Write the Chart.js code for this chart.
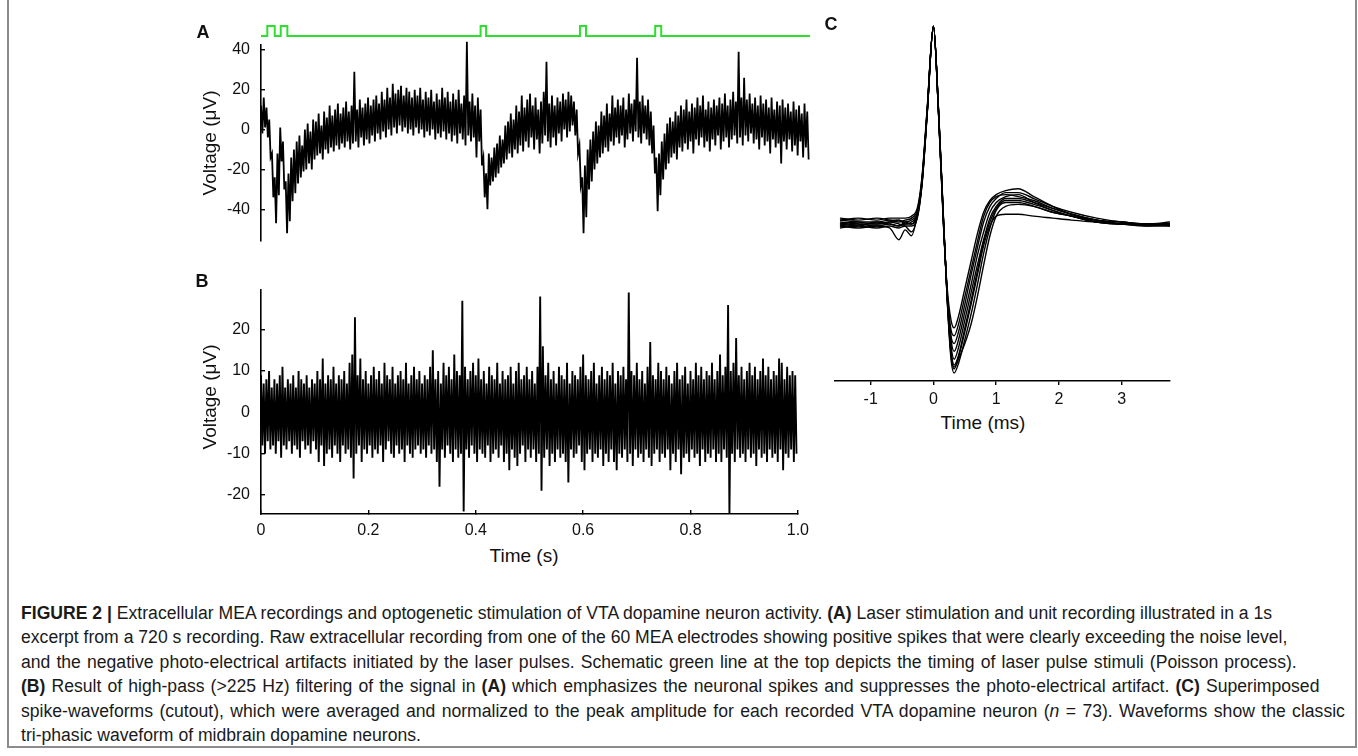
<!DOCTYPE html>
<html>
<head>
<meta charset="utf-8">
<script src="https://cdn.jsdelivr.net/npm/chart.js@4.4.1/dist/chart.umd.min.js"></script>
<style>
  body { margin: 0; width: 1358px; height: 756px; background: #fff; overflow: hidden; position: relative;
         font-family: "Liberation Sans", Arial, sans-serif; color: #111; }
  canvas { position: absolute; }
  .lbl { position: absolute; font-weight: bold; font-size: 18px; line-height: 1; transform: translate(-50%, -50%); }
  .ttl { position: absolute; font-size: 19px; line-height: 1; white-space: nowrap; transform: translate(-50%, -50%); }
  .ttl.rot { transform: translate(-50%, -50%) rotate(-90deg); }
  #frame { position: absolute; left: 7px; top: -4px; width: 1350px; height: 752px; border: 2px solid #8c8c8c; box-sizing: border-box; }
  #caption { position: absolute; left: 21px; top: 601px; font-size: 17.6px; line-height: 24.4px; color: #1a1a1a; white-space: nowrap; }
</style>
</head>
<body>
<div id="frame"></div>

<canvas id="chartG" width="627" height="20" style="left:193px; top:20px;"></canvas>
<canvas id="chartA" width="627" height="250" style="left:193px; top:15px;"></canvas>
<canvas id="chartB" width="627" height="279" style="left:193px; top:265px;"></canvas>
<canvas id="chartC" width="370" height="396" style="left:820px; top:15px;"></canvas>

<div class="lbl" style="left:203px; top:32px;">A</div>
<div class="lbl" style="left:202px; top:281px;">B</div>
<div class="lbl" style="left:831px; top:24px;">C</div>

<div class="ttl rot" style="left:209px; top:143px;">Voltage (μV)</div>
<div class="ttl rot" style="left:209px; top:397px;">Voltage (μV)</div>
<div class="ttl" style="left:524px; top:555px;">Time (s)</div>
<div class="ttl" style="left:983px; top:422px;">Time (ms)</div>

<div id="caption">
  <div><b>FIGURE 2 |</b> Extracellular MEA recordings and optogenetic stimulation of VTA dopamine neuron activity. <b>(A)</b> Laser stimulation and unit recording illustrated in a 1s</div>
  <div>excerpt from a 720 s recording. Raw extracellular recording from one of the 60 MEA electrodes showing positive spikes that were clearly exceeding the noise level,</div>
  <div style="word-spacing:1.2px">and the negative photo-electrical artifacts initiated by the laser pulses. Schematic green line at the top depicts the timing of laser pulse stimuli (Poisson process).</div>
  <div style="word-spacing:1.2px"><b>(B)</b> Result of high-pass (&gt;225 Hz) filtering of the signal in <b>(A)</b> which emphasizes the neuronal spikes and suppresses the photo-electrical artifact. <b>(C)</b> Superimposed</div>
  <div style="word-spacing:1.5px">spike-waveforms (cutout), which were averaged and normalized to the peak amplitude for each recorded VTA dopamine neuron (<i>n</i> = 73). Waveforms show the classic</div>
  <div>tri-phasic waveform of midbrain dopamine neurons.</div>
</div>

<script>
// ---- data ----

// laser pulses (s)
const pulseOn  = [0.0115, 0.036, 0.400, 0.581, 0.718];
const pulseOff = [0.025, 0.048, 0.410, 0.592, 0.729];

// panel A: raw trace, upper / lower excursion per 5 ms bin (µV)
const binA = 0.005;
const aHi = [12, 16, 11, 5, -12, -24, -12, 1, -6, -26,
  -22, -14, -10, -6, -3, -8, 0, 3, -1, 5,
  4, 8, 2, 9, 6, 12, 7, 10, 13, 8,
  11, 14, 9, 12, 29, 10, 15, 11, 13, 16,
  12, 15, 17, 13, 19, 15, 21, 16, 23, 18,
  20, 22, 17, 21, 19, 16, 20, 17, 21, 15,
  19, 16, 20, 14, 18, 15, 21, 16, 19, 14,
  18, 15, 20, 13, 17, 44, 14, 18, 12, 16,
  10, -14, -22, -12, -14, -9, -7, -3, -5, 2,
  4, 8, 5, 12, 9, 17, 11, 15, 18, 12,
  16, 10, 14, 19, 34, 13, 17, 12, 16, 14,
  18, 15, 19, 17, 14, 10, -8, -24, -18, -10,
  -5, -1, 4, 2, 9, 7, 13, 8, 17, 11,
  15, 12, 16, 10, 18, 13, 15, 36, 14, 17,
  12, 15, 9, 2, -14, -12, -6, -2, 3, 6,
  4, 9, 7, 12, 10, 15, 9, 13, 11, 16,
  12, 17, 10, 14, 11, 15, 12, 16, 13, 18,
  12, 15, 19, 14, 39, 16, 26, 15, 18, 13,
  16, 12, 17, 13, 15, 11, 16, 10, 14, 12,
  15, 11, 13, 9, 14, 10, 12, 8, 13, 9];
const aLo = [-2, 1, -4, -14, -34, -47, -33, -16, -30, -52,
  -46, -36, -32, -27, -24, -21, -20, -17, -20, -15,
  -13, -12, -15, -10, -12, -9, -11, -8, -10, -7,
  -9, -6, -10, -7, -6, -9, -4, -8, -5, -7,
  -3, -6, -2, -5, -1, -4, 0, -3, 1, -2,
  2, -1, 1, -2, 0, -3, 1, -2, 0, -4,
  -1, -3, 0, -5, -2, -4, -1, -5, -2, -6,
  -3, -7, -2, -5, -8, -3, -6, -4, -14, -6,
  -18, -34, -40, -28, -26, -24, -22, -19, -17, -15,
  -12, -14, -10, -12, -8, -11, -6, -9, -4, -10,
  -5, -12, -7, -3, -6, -9, -4, -8, -2, -6,
  0, -4, -1, 2, -3, -12, -28, -52, -44, -30,
  -26, -20, -17, -14, -12, -9, -11, -6, -8, -4,
  -7, -3, -9, -5, -2, -6, -1, -4, -7, -2,
  -5, -8, -12, -22, -41, -33, -25, -20, -17, -14,
  -12, -15, -9, -11, -7, -10, -6, -12, -5, -8,
  -4, -9, -6, -11, -5, -8, -3, -10, -6, -4,
  -9, -5, -3, -7, -4, -8, -3, -6, -2, -7,
  -5, -10, -4, -8, -6, -12, -5, -9, -7, -17,
  -6, -10, -5, -11, -8, -13, -6, -14, -9, -15];

// panel B: high-pass trace, upper / lower excursion per 5 ms bin (µV)
const binB = 0.005;
const bHi = [9, 7, 8, 10, 6, 8, 7, 9, 11, 6,
  8, 7, 9, 6, 10, 8, 7, 9, 6, 8,
  7, 10, 8, 13, 7, 9, 8, 11, 7, 9,
  8, 10, 7, 12, 14, 23, 9, 13, 8, 10,
  7, 9, 11, 8, 10, 7, 12, 9, 8, 11,
  7, 9, 10, 8, 12, 7, 9, 11, 8, 10,
  7, 9, 8, 11, 15, 8, 10, 7, 12, 9,
  11, 8, 14, 10, 9, 27, 11, 8, 10, 12,
  9, 13, 8, 10, 7, 11, 9, 8, 12, 7,
  10, 8, 9, 11, 7, 10, 12, 8, 9, 11,
  8, 10, 7, 11, 28, 16, 9, 12, 8, 10,
  7, 11, 9, 8, 12, 7, 10, 9, 8, 11,
  14, 9, 8, 10, 12, 7, 9, 11, 8, 10,
  9, 12, 7, 10, 9, 11, 8, 29, 10, 9,
  12, 8, 10, 7, 11, 17, 9, 8, 12, 10,
  8, 11, 9, 7, 10, 12, 8, 9, 11, 7,
  10, 8, 12, 9, 11, 8, 10, 9, 12, 8,
  10, 14, 9, 11, 26, 10, 12, 18, 9, 11,
  8, 10, 12, 9, 11, 8, 10, 13, 9, 11,
  8, 10, 9, 13, 12, 8, 11, 9, 10, 9];
const bLo = [-8, -10, -7, -9, -8, -10, -7, -11, -8, -9,
  -7, -10, -8, -9, -11, -7, -9, -8, -10, -7,
  -9, -12, -8, -13, -10, -9, -11, -8, -10, -12,
  -8, -10, -9, -11, -16, -10, -8, -12, -9, -10,
  -8, -11, -9, -10, -8, -12, -9, -7, -10, -11,
  -8, -10, -9, -12, -8, -10, -11, -9, -8, -10,
  -9, -11, -8, -10, -9, -12, -18, -9, -11, -8,
  -10, -12, -9, -11, -10, -24, -9, -11, -8, -10,
  -12, -9, -10, -11, -8, -12, -10, -9, -11, -8,
  -12, -10, -14, -9, -11, -13, -10, -8, -12, -9,
  -11, -9, -12, -10, -19, -11, -9, -13, -10, -12,
  -9, -11, -10, -12, -17, -9, -11, -10, -8, -12,
  -14, -10, -9, -12, -10, -11, -9, -13, -10, -12,
  -9, -12, -14, -10, -11, -9, -12, -10, -13, -9,
  -11, -10, -12, -9, -11, -13, -10, -9, -12, -10,
  -11, -9, -14, -10, -12, -9, -15, -11, -10, -12,
  -9, -11, -10, -13, -9, -12, -10, -11, -9, -12,
  -10, -12, -9, -11, -25, -10, -12, -9, -11, -10,
  -12, -9, -11, -10, -13, -9, -11, -10, -12, -9,
  -11, -10, -12, -9, -14, -10, -11, -9, -12, -10];

// panel C: superimposed normalized spike waveforms
const tC = [-1.49, -1.2, -0.9, -0.7, -0.55, -0.45, -0.35, -0.25, -0.18, -0.1, 0, 0.08, 0.16, 0.22, 0.28, 0.33,
  0.4, 0.5, 0.6, 0.7, 0.8, 0.9, 1.0, 1.15, 1.35, 1.6, 1.9, 2.2, 2.6, 3.0, 3.4, 3.77];
const waves = [
  [-0.01, 0.0, 0.0, 0.01, 0.01, 0.0, 0.01, 0.06, 0.22, 0.56, 1.0, 0.57, 0.0, -0.38, -0.63, -0.70, -0.64, -0.5, -0.36, -0.22, -0.09, 0.02, 0.08, 0.12, 0.12, 0.1, 0.07, 0.04, 0.01, 0.0, -0.01, -0.01],
  [-0.03, -0.02, -0.03, -0.02, -0.03, -0.02, -0.02, 0.03, 0.2, 0.55, 1.0, 0.58, 0.02, -0.4, -0.7, -0.77, -0.72, -0.6, -0.47, -0.32, -0.16, -0.03, 0.06, 0.1, 0.1, 0.08, 0.05, 0.03, 0.0, -0.01, -0.02, -0.02],
  [0.01, 0.02, 0.01, 0.02, 0.02, 0.02, 0.03, 0.08, 0.24, 0.58, 1.0, 0.56, -0.02, -0.34, -0.5, -0.54, -0.48, -0.34, -0.2, -0.06, 0.05, 0.11, 0.14, 0.16, 0.17, 0.13, 0.08, 0.04, 0.01, 0.0, -0.01, -0.01],
  [-0.02, -0.03, -0.02, -0.03, -0.09, -0.04, -0.07, 0.05, 0.21, 0.56, 1.0, 0.57, 0.0, -0.37, -0.6, -0.66, -0.6, -0.46, -0.32, -0.17, -0.05, 0.05, 0.1, 0.13, 0.14, 0.1, 0.06, 0.03, 0.0, -0.01, -0.01, -0.02],
  [0.0, -0.01, -0.02, -0.01, -0.02, -0.01, -0.01, 0.04, 0.2, 0.55, 1.0, 0.58, 0.01, -0.39, -0.67, -0.75, -0.69, -0.56, -0.42, -0.27, -0.12, -0.02, 0.03, 0.04, 0.04, 0.03, 0.02, 0.01, 0.0, -0.01, -0.01, -0.01],
  [0.02, 0.01, 0.02, 0.01, 0.0, 0.01, 0.02, 0.07, 0.23, 0.57, 1.0, 0.56, -0.01, -0.36, -0.58, -0.62, -0.56, -0.42, -0.27, -0.13, 0.0, 0.08, 0.12, 0.15, 0.15, 0.12, 0.08, 0.05, 0.02, 0.0, -0.01, 0.0],
  [-0.02, -0.01, -0.01, 0.0, -0.01, -0.02, -0.05, 0.04, 0.21, 0.56, 1.0, 0.57, 0.0, -0.39, -0.65, -0.73, -0.68, -0.54, -0.4, -0.25, -0.1, 0.0, 0.07, 0.11, 0.11, 0.09, 0.06, 0.03, 0.01, -0.01, -0.02, -0.01],
  [0.01, 0.0, -0.01, 0.0, 0.01, -0.01, 0.0, 0.05, 0.22, 0.57, 1.0, 0.57, 0.01, -0.4, -0.68, -0.74, -0.7, -0.62, -0.52, -0.38, -0.22, -0.07, 0.03, 0.08, 0.09, 0.08, 0.05, 0.03, 0.0, -0.01, -0.01, -0.01],
  [-0.01, -0.02, 0.0, -0.01, -0.02, 0.0, -0.01, 0.05, 0.21, 0.56, 1.0, 0.57, 0.01, -0.37, -0.55, -0.58, -0.52, -0.38, -0.24, -0.1, 0.03, 0.1, 0.13, 0.14, 0.13, 0.11, 0.07, 0.04, 0.01, -0.01, -0.01, -0.01]
];

// tick labels
const aTicks = [40, 20, 0, -20, -40];
const bTicks = [20, 10, 0, -10, -20];
const bTimeTicks = [0, 0.2, 0.4, 0.6, 0.8, 1.0];
const bTimeLabels = ['0', '0.2', '0.4', '0.6', '0.8', '1.0'];
const cTimeTicks = [-1, 0, 1, 2, 3];

// ---- helpers ----
const FONT = { family: '"Liberation Sans", Arial, sans-serif', size: 16 };
const INK = '#111';

function zigzag(hi, lo, bin) {
  const pts = [];
  hi.forEach((v, i) => {
    pts.push({ x: i * bin, y: v });
    pts.push({ x: i * bin + bin / 2, y: lo[i] });
  });
  return pts;
}

function fixedTicks(values) {
  return scale => { scale.ticks = values.map(v => ({ value: v })); };
}

const baseOpts = {
  responsive: false,
  animation: false,
  events: [],
  plugins: { legend: { display: false }, tooltip: { enabled: false } }
};

// ---- green laser pulse line ----
const pulsePts = [{ x: 0, y: 0 }];
pulseOn.forEach((t, i) => {
  pulsePts.push({ x: t, y: 1 });
  pulsePts.push({ x: pulseOff[i], y: 0 });
});
pulsePts.push({ x: 1, y: 0 });

new Chart(document.getElementById('chartG'), {
  type: 'line',
  data: { datasets: [{ data: pulsePts, stepped: true, borderColor: '#2ee02e', borderWidth: 2, pointRadius: 0, clip: false }] },
  options: {
    ...baseOpts,
    layout: { padding: { left: 68, right: 10, top: 4, bottom: 2 } },
    scales: {
      x: { type: 'linear', min: 0, max: 1, display: false },
      y: { min: -0.2, max: 1.2, display: false }
    }
  }
});

// ---- panel A ----
new Chart(document.getElementById('chartA'), {
  type: 'line',
  data: { datasets: [{ data: zigzag(aHi, aLo, binA), borderColor: '#000', borderWidth: 1.8, pointRadius: 0, tension: 0, clip: false }] },
  options: {
    ...baseOpts,
    layout: { padding: { left: 0, right: 10, top: 30, bottom: 2 } },
    scales: {
      x: { type: 'linear', min: 0, max: 1, display: false },
      y: {
        min: -55.6, max: 42.4,
        afterFit: s => { s.width = 68; },
        afterBuildTicks: fixedTicks(aTicks),
        border: { color: '#000', width: 1.6 },
        grid: { drawOnChartArea: false, tickLength: -4, color: '#000', lineWidth: 1.4 },
        ticks: { padding: 15, color: INK, font: FONT }
      }
    }
  }
});

// ---- panel B ----
new Chart(document.getElementById('chartB'), {
  type: 'line',
  data: { datasets: [{ data: zigzag(bHi, bLo, binB), borderColor: '#000', borderWidth: 1.9, pointRadius: 0, tension: 0 }] },
  options: {
    ...baseOpts,
    layout: { padding: { left: 0, right: 10, top: 6, bottom: 0 } },
    scales: {
      x: {
        type: 'linear', min: 0, max: 1,
        afterFit: s => { s.height = 30; },
        afterBuildTicks: fixedTicks(bTimeTicks),
        border: { color: '#000', width: 1.6 },
        grid: { drawOnChartArea: false, tickLength: -4, color: '#000', lineWidth: 1.4 },
        ticks: { padding: 11, color: INK, font: FONT, maxRotation: 0,
                 callback: v => bTimeLabels[bTimeTicks.indexOf(v)] }
      },
      y: {
        min: -24.6, max: 29.7,
        afterFit: s => { s.width = 68; },
        afterBuildTicks: fixedTicks(bTicks),
        border: { color: '#000', width: 1.6 },
        grid: { drawOnChartArea: false, tickLength: -4, color: '#000', lineWidth: 1.4 },
        ticks: { padding: 15, color: INK, font: FONT }
      }
    }
  }
});

// ---- panel C ----
new Chart(document.getElementById('chartC'), {
  type: 'line',
  data: {
    datasets: waves.map(w => ({
      data: w.map((v, i) => ({ x: tC[i], y: v })),
      borderColor: '#000', borderWidth: 1.4, pointRadius: 0,
      cubicInterpolationMode: 'monotone'
    }))
  },
  options: {
    ...baseOpts,
    layout: { padding: { left: 15, right: 20, top: 5, bottom: 0 } },
    scales: {
      x: {
        type: 'linear', min: -1.569, max: 3.77,
        afterFit: s => { s.height = 30; },
        afterBuildTicks: fixedTicks(cTimeTicks),
        border: { color: '#000', width: 1.6 },
        grid: { drawOnChartArea: false, tickLength: 4, color: '#000', lineWidth: 1.4 },
        ticks: { padding: 5, color: INK, font: FONT, maxRotation: 0 }
      },
      y: { min: -0.811, max: 1.031, display: false }
    }
  }
});
</script>
</body>
</html>
